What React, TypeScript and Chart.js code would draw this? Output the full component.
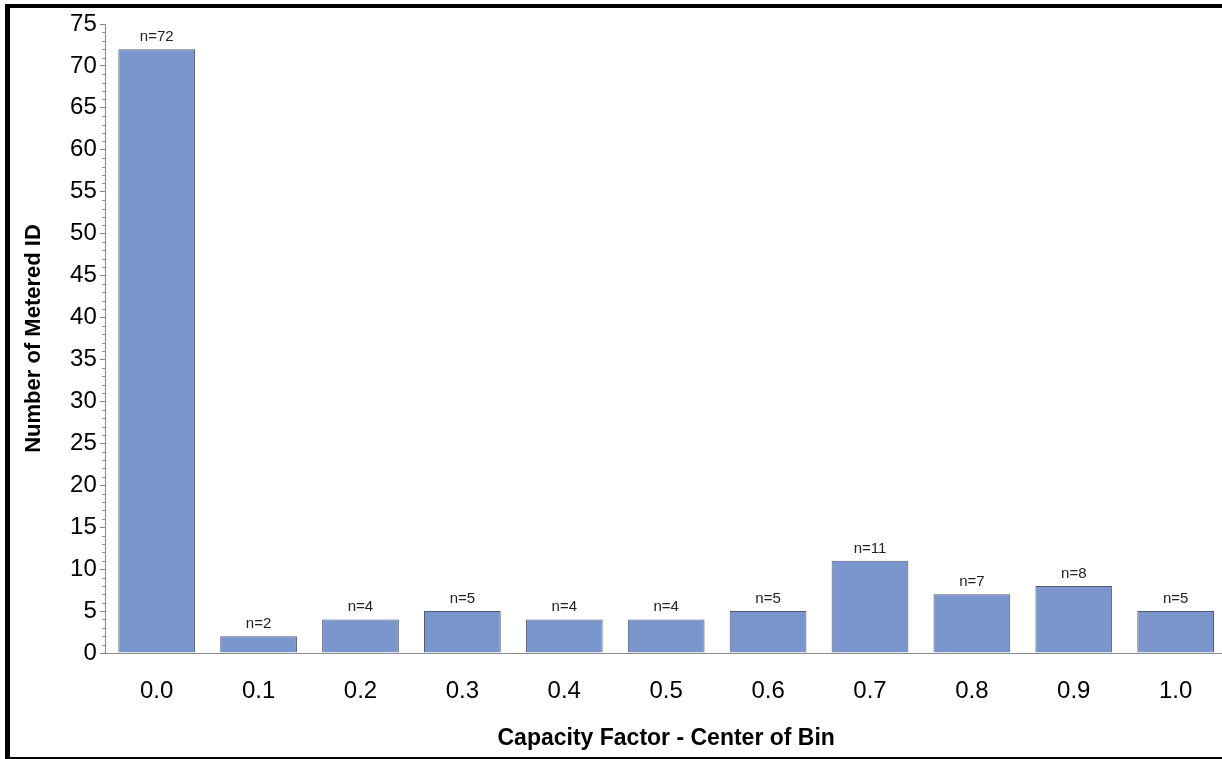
import React, { useEffect, useRef } from "react";
import { Chart, registerables } from "chart.js";

Chart.register(...registerables);

const categories = ["0.0", "0.1", "0.2", "0.3", "0.4", "0.5", "0.6", "0.7", "0.8", "0.9", "1.0"];
const counts = [72, 2, 4, 5, 4, 4, 5, 11, 7, 8, 5];
const yMin = 0;
const yMax = 75;
const yMajorStep = 5;
const yMinorStep = 1;

const FONT = "'Liberation Sans', Arial, sans-serif";
const AXIS_GRAY = "#8a8a8a";

const minorTicksPlugin = {
  id: "minorTicks",
  afterDraw(chart: any) {
    const scale = chart.scales.y;
    const ctx = chart.ctx;
    ctx.save();
    ctx.strokeStyle = AXIS_GRAY;
    ctx.lineWidth = 1;
    const x = scale.right;
    for (let v = yMin; v <= yMax; v += yMinorStep) {
      if (v % yMajorStep === 0) continue;
      const y = Math.round(scale.getPixelForValue(v)) + 0.5;
      ctx.beginPath();
      ctx.moveTo(x - 3.5, y);
      ctx.lineTo(x, y);
      ctx.stroke();
    }
    ctx.restore();
  },
};

const barLabelPlugin = {
  id: "barLabels",
  afterDatasetsDraw(chart: any) {
    const ctx = chart.ctx;
    const meta = chart.getDatasetMeta(0);
    ctx.save();
    ctx.font = `15px ${FONT}`;
    ctx.fillStyle = "#222";
    ctx.textAlign = "center";
    ctx.textBaseline = "alphabetic";
    meta.data.forEach((bar: any, i: number) => {
      ctx.fillText(`n=${counts[i]}`, bar.x, bar.y - 8);
    });
    ctx.restore();
  },
};

export default function App() {
  const ref = useRef<HTMLCanvasElement | null>(null);

  useEffect(() => {
    if (!ref.current) return;
    const chart = new Chart(ref.current, {
      type: "bar",
      data: {
        labels: categories,
        datasets: [
          {
            data: counts,
            backgroundColor: "rgb(123,150,205)",
            borderColor: "rgb(80,90,120)",
            borderWidth: 1,
            barPercentage: 0.753,
            categoryPercentage: 1,
          },
        ],
      },
      options: {
        responsive: false,
        animation: false,
        devicePixelRatio: 1,
        layout: { padding: { left: 0, top: 24, right: 13.4, bottom: 0 } },
        plugins: {
          legend: { display: false },
          tooltip: { enabled: false },
        },
        scales: {
          x: {
            grid: { display: true, drawOnChartArea: false, drawTicks: false },
            border: { display: true, color: AXIS_GRAY, width: 1 },
            ticks: {
              color: "#000",
              font: { family: FONT, size: 24 },
              padding: 23.5,
              maxRotation: 0,
            },
            title: {
              display: true,
              text: "Capacity Factor - Center of Bin",
              color: "#000",
              font: { family: FONT, size: 23, weight: "bold" },
              padding: { top: 0, bottom: 6.5 },
            },
            afterFit: (scale: any) => {
              scale.height = 106;
            },
          },
          y: {
            min: yMin,
            max: yMax,
            grid: {
              display: true,
              drawOnChartArea: false,
              drawTicks: true,
              tickLength: 6,
              tickColor: AXIS_GRAY,
              color: AXIS_GRAY,
            },
            border: { display: true, color: AXIS_GRAY, width: 1 },
            ticks: {
              stepSize: yMajorStep,
              color: "#000",
              font: { family: FONT, size: 24 },
              padding: 3,
            },
            title: {
              display: true,
              text: "Number of Metered ID",
              color: "#000",
              font: { family: FONT, size: 22, weight: "bold" },
              padding: { top: 21, bottom: 0 },
            },
            afterFit: (scale: any) => {
              scale.width = 105.75;
            },
          },
        },
      },
      plugins: [minorTicksPlugin, barLabelPlugin],
    });
    return () => chart.destroy();
  }, []);

  return (
    <div
      style={{
        position: "fixed",
        left: 0,
        top: 0,
        width: 1222,
        height: 759,
        overflow: "hidden",
        background: "#fff",
      }}
    >
      <div
        style={{
          position: "absolute",
          left: 5,
          top: 4,
          width: 1300,
          height: 757,
          boxSizing: "border-box",
          borderStyle: "solid",
          borderColor: "#000",
          borderWidth: "4px 4px 4px 5px",
        }}
      />
      <canvas
        ref={ref}
        width={1240}
        height={759}
        style={{ position: "absolute", left: 0, top: 0, width: 1240, height: 759 }}
      />
    </div>
  );
}
